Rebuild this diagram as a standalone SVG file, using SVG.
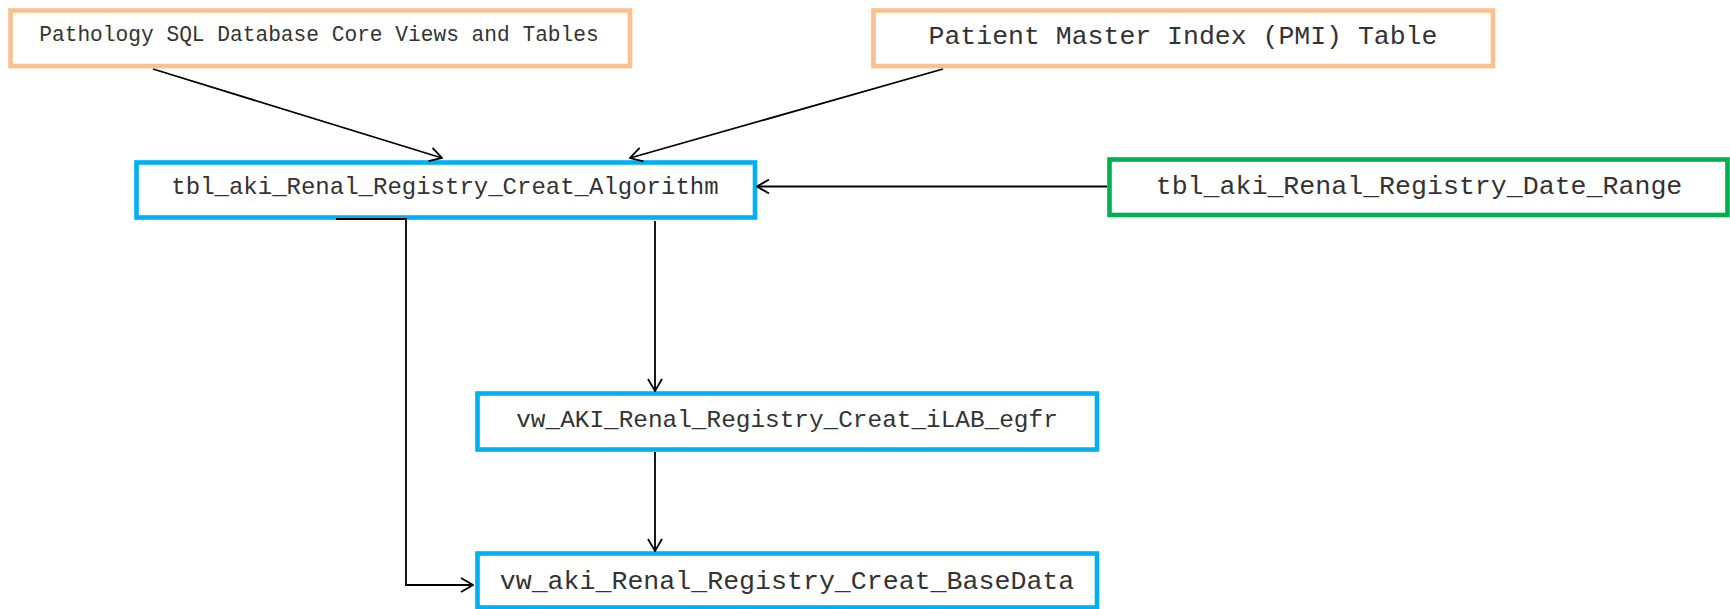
<svg xmlns="http://www.w3.org/2000/svg" width="1730" height="609" viewBox="0 0 1730 609">
<style>
.box{fill:#fff;stroke-width:4.6}
.src{stroke:#FBC08D}
.blue{stroke:#00B0F0}
.green{stroke:#00B050}
.t{font-family:"Liberation Mono","Courier New",monospace;fill:#333;text-anchor:middle;dominant-baseline:central}
.c{fill:none;stroke:#000;stroke-width:1.8}
</style>
<defs>
<marker id="arr" viewBox="0 0 14 16" refX="13" refY="8" markerWidth="14" markerHeight="16" markerUnits="userSpaceOnUse" orient="auto">
<path d="M1,1 L13,8 L1,15" fill="none" stroke="#000" stroke-width="1.8"/>
</marker>
</defs>
<rect width="1730" height="609" fill="#fff"/>
<g id="node-pathology">
<rect class="box src" x="10.5" y="10.5" width="619.5" height="55.5"/>
<text class="t" x="319" y="35" font-size="21.2">Pathology SQL Database Core Views and Tables</text>
</g>
<g id="node-pmi">
<rect class="box src" x="873.5" y="10.5" width="619.5" height="55.5"/>
<text class="t" x="1183" y="37" font-size="26.5">Patient Master Index (PMI) Table</text>
</g>
<g id="node-algorithm">
<rect class="box blue" x="136.5" y="162.5" width="618.5" height="55"/>
<text class="t" x="445" y="187" font-size="24">tbl_aki_Renal_Registry_Creat_Algorithm</text>
</g>
<g id="node-daterange">
<rect class="box green" x="1109.5" y="159.5" width="618" height="55.5"/>
<text class="t" x="1419" y="187" font-size="26.6">tbl_aki_Renal_Registry_Date_Range</text>
</g>
<g id="node-ilab">
<rect class="box blue" x="477.5" y="393.5" width="619.5" height="56"/>
<text class="t" x="787" y="420" font-size="24.4">vw_AKI_Renal_Registry_Creat_iLAB_egfr</text>
</g>
<g id="node-basedata">
<rect class="box blue" x="477.5" y="553.5" width="619.5" height="54"/>
<text class="t" x="787" y="582" font-size="26.6">vw_aki_Renal_Registry_Creat_BaseData</text>
</g>
<g id="connectors">
<line class="c" x1="153" y1="69" x2="442" y2="158" marker-end="url(#arr)"/>
<line class="c" x1="943" y1="69" x2="630" y2="158" marker-end="url(#arr)"/>
<line class="c" x1="1107" y1="186.5" x2="757" y2="186.5" marker-end="url(#arr)"/>
<line class="c" x1="655" y1="221" x2="655" y2="391" marker-end="url(#arr)"/>
<line class="c" x1="655" y1="452" x2="655" y2="551" marker-end="url(#arr)"/>
<polyline class="c" points="336,219 406,219 406,585 473,585" marker-end="url(#arr)"/>
</g>
</svg>
